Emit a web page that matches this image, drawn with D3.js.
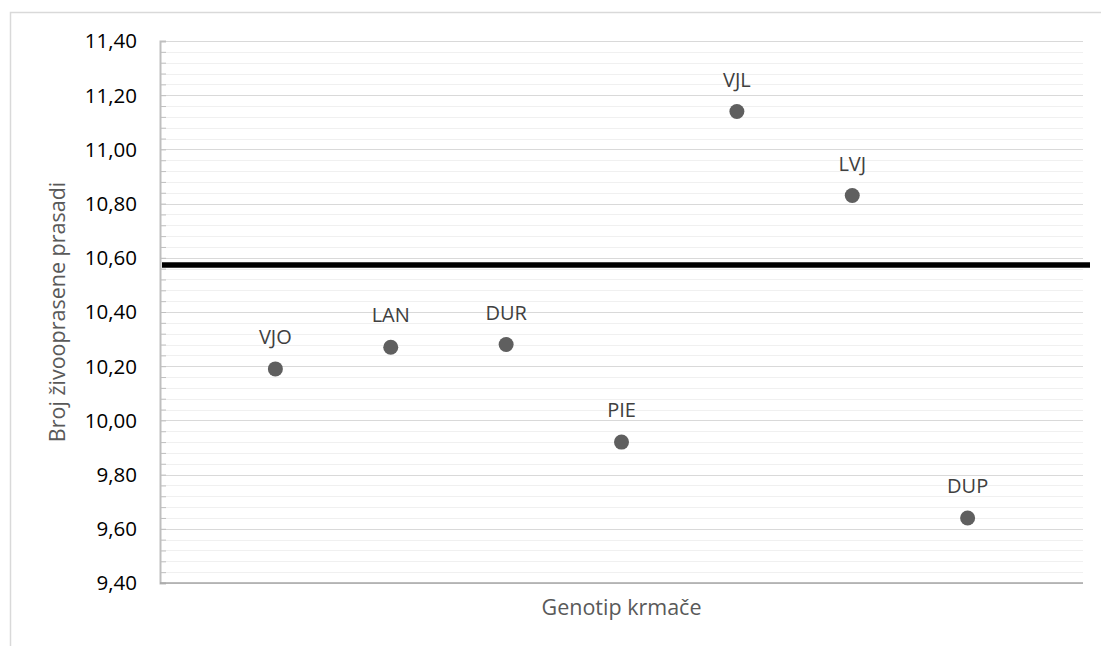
<!DOCTYPE html>
<html>
<head>
<meta charset="utf-8">
<script src="https://d3js.org/d3.v7.min.js"></script>
<style>
  body { margin: 0; background: #fff; }
  svg { display: block; font-family: "Open Sans", "DejaVu Sans", sans-serif; }
</style>
</head>
<body>
<div id="chart"></div>
<script>
// genotypes along the x axis
const genotypes = ['VJO', 'LAN', 'DUR', 'PIE', 'VJL', 'LVJ', 'DUP'];
// number of live-born piglets per genotype
const liveBorn = [10.19, 10.27, 10.28, 9.92, 11.14, 10.83, 9.64];
// overall average (thick black line)
const average = [10.573];
// y axis labels
const yTicks = [9.4, 9.6, 9.8, 10.0, 10.2, 10.4, 10.6, 10.8, 11.0, 11.2, 11.4];

const W = 1101, H = 646;
const plotLeft = 160, plotRight = 1083, plotTop = 41, plotBottom = 583;

const svg = d3.select('#chart').append('svg')
    .attr('width', W)
    .attr('height', H);

// outer chart frame
svg.append('rect')
    .attr('x', 10.5).attr('y', 12.5)
    .attr('width', W).attr('height', H)
    .attr('fill', 'none')
    .attr('stroke', '#d9d9d9')
    .attr('stroke-width', 1.5);

const x = d3.scaleLinear().domain([0, genotypes.length + 1]).range([plotLeft, plotRight]);
const y = d3.scaleLinear().domain([9.4, 11.4]).range([plotBottom, plotTop]);

// minor grid every 0.04
const minor = d3.range(0, 51).map(i => 9.4 + i * 0.04);
svg.append('g').selectAll('line')
    .data(minor)
    .enter().append('line')
    .attr('x1', plotLeft).attr('x2', plotRight)
    .attr('y1', d => Math.round(y(d)) + 0.5)
    .attr('y2', d => Math.round(y(d)) + 0.5)
    .attr('stroke', '#f0f0f0')
    .attr('stroke-width', 1.2);

// major grid
svg.append('g').selectAll('line')
    .data(yTicks)
    .enter().append('line')
    .attr('x1', plotLeft).attr('x2', plotRight)
    .attr('y1', d => Math.round(y(d)) + 0.5)
    .attr('y2', d => Math.round(y(d)) + 0.5)
    .attr('stroke', '#d9d9d9')
    .attr('stroke-width', 1.2);

// y axis with inner tick marks
const yAxis = d3.axisRight(y)
    .tickValues(minor)
    .tickSize(6)
    .tickFormat('');
const yg = svg.append('g')
    .attr('transform', 'translate(' + plotLeft + ',0)')
    .call(yAxis);
yg.select('.domain').attr('stroke', '#bfbfbf').attr('stroke-width', 2);
yg.selectAll('.tick line').attr('stroke', '#bfbfbf');

// y tick labels
svg.append('g').selectAll('text')
    .data(yTicks)
    .enter().append('text')
    .attr('x', 137)
    .attr('y', d => y(d))
    .attr('dy', '0.36em')
    .attr('text-anchor', 'end')
    .attr('font-size', 20.5)
    .attr('fill', '#000')
    .text(d => d3.format('.2f')(d).replace('.', ','));

// x axis line
svg.append('line')
    .attr('x1', plotLeft).attr('x2', plotRight)
    .attr('y1', plotBottom).attr('y2', plotBottom)
    .attr('stroke', '#a6a6a6')
    .attr('stroke-width', 1.5);

// average line
svg.append('g').selectAll('line')
    .data(average)
    .enter().append('line')
    .attr('x1', plotLeft + 2).attr('x2', 1090)
    .attr('y1', d => y(d)).attr('y2', d => y(d))
    .attr('stroke', '#000')
    .attr('stroke-width', 5.5);

// points
svg.append('g').selectAll('circle')
    .data(liveBorn)
    .enter().append('circle')
    .attr('cx', (d, i) => x(i + 1))
    .attr('cy', d => y(d))
    .attr('r', 7.5)
    .attr('fill', '#5f5f5f');

// point labels
svg.append('g').selectAll('text')
    .data(liveBorn)
    .enter().append('text')
    .attr('x', (d, i) => x(i + 1))
    .attr('y', d => y(d) - 32)
    .attr('dy', '0.36em')
    .attr('text-anchor', 'middle')
    .attr('font-size', 20)
    .attr('fill', '#404040')
    .text((d, i) => genotypes[i]);

// axis titles
svg.append('text')
    .attr('x', (plotLeft + plotRight) / 2)
    .attr('y', 607)
    .attr('dy', '0.36em')
    .attr('text-anchor', 'middle')
    .attr('font-size', 21.5)
    .attr('fill', '#595959')
    .text('Genotip krmače');

svg.append('text')
    .attr('transform', 'translate(57,' + (plotTop + plotBottom) / 2 + ') rotate(-90)')
    .attr('dy', '0.36em')
    .attr('text-anchor', 'middle')
    .attr('font-size', 21.5)
    .attr('fill', '#595959')
    .text('Broj živooprasene prasadi');
</script>
</body>
</html>
